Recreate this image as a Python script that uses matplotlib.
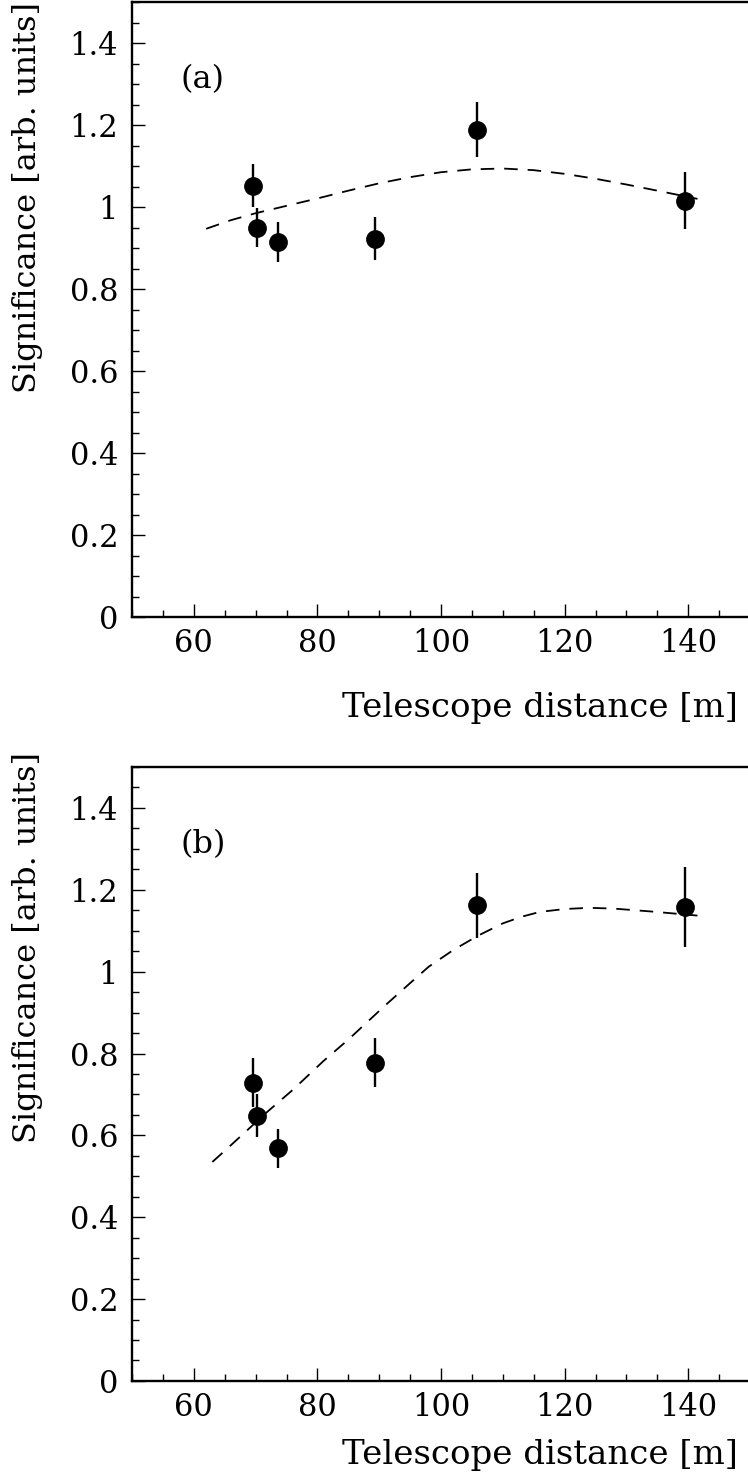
import matplotlib
matplotlib.use('Agg')
import matplotlib.pyplot as plt
import numpy as np
from matplotlib.ticker import MultipleLocator

plt.rcParams['font.family'] = ['DejaVu Serif']

# telescope distances [m]
dist = [69.5, 70.2, 73.7, 89.3, 105.9, 139.4]

# panel (a)
sig_a = [1.052, 0.950, 0.915, 0.923, 1.189, 1.016]
err_a = [0.053, 0.048, 0.048, 0.053, 0.068, 0.070]
fit_a_x = [62, 66, 70, 75, 80, 85, 90, 95, 100, 105, 110, 115, 120, 125, 130, 135, 141.5]
fit_a_y = [0.947, 0.968, 0.985, 1.003, 1.021, 1.040, 1.058, 1.073, 1.085, 1.092, 1.094,
           1.090, 1.081, 1.069, 1.055, 1.040, 1.020]

# panel (b)
sig_b = [0.729, 0.648, 0.568, 0.778, 1.162, 1.158]
err_b = [0.060, 0.052, 0.047, 0.060, 0.080, 0.097]
fit_b_x = [63, 66, 72, 76, 81, 85, 91, 95, 98, 102, 106, 110, 113, 116, 120, 124, 128,
           134, 141.5]
fit_b_y = [0.535, 0.576, 0.659, 0.711, 0.782, 0.834, 0.918, 0.972, 1.012, 1.053, 1.088,
           1.118, 1.134, 1.146, 1.153, 1.156, 1.154, 1.147, 1.137]

ftsize = 22
fig = plt.figure(figsize=(7.48, 14.79), dpi=100)


def panel(rect, sig, err, fx, fy, tag, xlab_y, ylab_y):
    ax = fig.add_axes(rect)
    ln, = ax.plot(fx, fy, color='black', lw=1.3, ls='--')
    ln.set_dashes((7.5, 5.5))
    ax.errorbar(dist, sig, yerr=err, fmt='o', color='black', ms=12.5, elinewidth=1.7,
                capsize=0)
    ax.set_xlim(50, 150)
    ax.set_ylim(0, 1.5)
    ax.xaxis.set_major_locator(MultipleLocator(20))
    ax.xaxis.set_minor_locator(MultipleLocator(5))
    ax.yaxis.set_major_locator(MultipleLocator(0.2))
    ax.yaxis.set_minor_locator(MultipleLocator(0.05))
    ax.yaxis.set_major_formatter(lambda v, p: '0' if abs(v) < 1e-9 else ('1' if abs(v - 1) < 1e-9 else '%.1f' % v))
    ax.tick_params(which='both', direction='in', top=False, right=False, labelsize=ftsize)
    ax.tick_params(which='major', length=9.5, width=1.0)
    ax.tick_params(which='minor', length=5, width=1.0)
    ax.tick_params(axis='x', pad=8)
    ax.tick_params(axis='y', pad=10)
    for s in ax.spines.values():
        s.set_linewidth(1.7)
    ax.set_xlabel('Telescope distance [m]', fontsize=24.5, ha='right', va='center')
    ax.xaxis.set_label_coords(0.98, xlab_y)
    ax.set_ylabel('Significance [arb. units]', fontsize=23, loc='top')
    ax.yaxis.set_label_coords(-0.144, ylab_y)
    ax.text(57.8, 1.31, tag, fontsize=23, va='center', ha='left')
    return ax


panel([0.1765, 0.5828, 0.8262, 0.4158], sig_a, err_a, fit_a_x, fit_a_y, '(a)', -0.148, 1.0)
panel([0.1765, 0.0663, 0.8262, 0.4151], sig_b, err_b, fit_b_x, fit_b_y, '(b)', -0.12, 1.024)

fig.savefig('out.png', dpi=100)
